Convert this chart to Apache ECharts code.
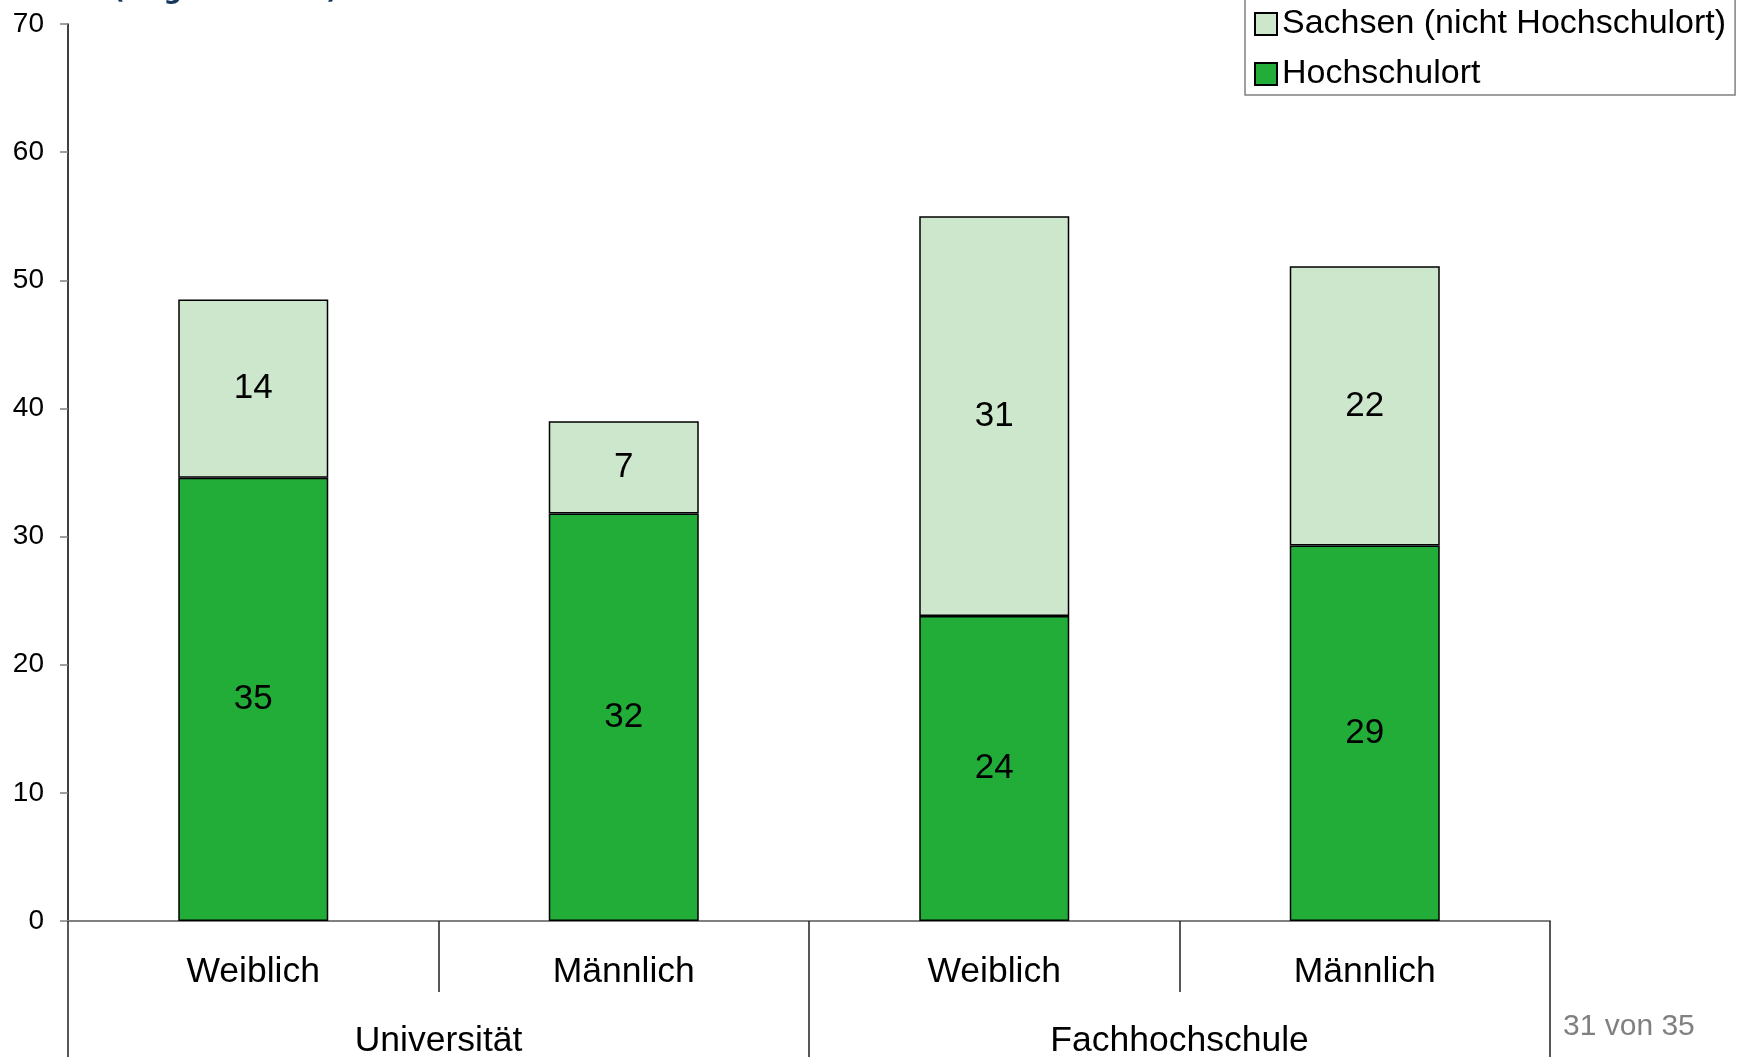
<!DOCTYPE html>
<html>
<head>
<meta charset="utf-8">
<script src="https://cdn.jsdelivr.net/npm/echarts@6/dist/echarts.min.js"></script>
<style>
html,body{margin:0;padding:0;background:#fff;}
#chart{width:1738px;height:1057px;}
</style>
</head>
<body>
<div id="chart"></div>
<script>
const subCategories = ['Weiblich', 'Männlich', 'Weiblich', 'Männlich'];
const groupCategories = ['Universität', 'Fachhochschule'];
const hochschulort = [34.6, 31.8, 23.8, 29.3];
const sachsen = [13.9, 7.2, 31.2, 21.8];
const seriesNames = ['Hochschulort', 'Sachsen (nicht Hochschulort)'];
const yTicks = { min: 0, max: 70, interval: 10 };
const titleText = '(Angaben in %)';
const pageText = '31 von 35';

const FONT = '"Liberation Sans", Arial, sans-serif';
const chart = echarts.init(document.getElementById('chart'), null, { renderer: 'canvas' });

const labelOpt = {
  show: true,
  position: 'inside',
  color: '#000',
  fontSize: 35,
  fontFamily: FONT,
  formatter: p => Math.round(p.value)
};

chart.setOption({
  backgroundColor: '#fff',
  animation: false,
  grid: { left: 68, right: 188, top: 24, bottom: 136, containLabel: false, outerBoundsMode: 'none' },
  legend: {
    data: [seriesNames[1], seriesNames[0]],
    orient: 'vertical',
    left: 1245,
    top: -2,
    padding: [9, 9, 4, 9],
    itemGap: 16,
    itemWidth: 22,
    itemHeight: 22,
    itemTextGap: 6,
    icon: 'rect',
    borderColor: '#808080',
    borderWidth: 1.5,
    backgroundColor: '#fff',
    textStyle: { fontSize: 34, fontFamily: FONT, color: '#000' }
  },
  xAxis: [
    {
      type: 'category',
      data: subCategories,
      position: 'bottom',
      boundaryGap: true,
      axisLine: { show: true, lineStyle: { color: '#808080', width: 2 } },
      axisTick: { show: true, interval: 0, length: 71, lineStyle: { color: '#222', width: 1.5 } },
      axisLabel: { interval: 0, margin: 33, fontSize: 35.5, fontFamily: FONT, color: '#000' },
      splitLine: { show: false }
    },
    {
      type: 'category',
      data: groupCategories,
      position: 'bottom',
      boundaryGap: true,
      axisLine: { show: false },
      axisTick: { show: true, interval: 0, length: 140, lineStyle: { color: '#222', width: 1.5 } },
      axisLabel: { interval: 0, margin: 102, fontSize: 35.5, fontFamily: FONT, color: '#000' },
      splitLine: { show: false }
    }
  ],
  yAxis: {
    type: 'value',
    min: yTicks.min,
    max: yTicks.max,
    interval: yTicks.interval,
    axisLine: { show: true, lineStyle: { color: '#000', width: 1.5 } },
    axisTick: { show: true, length: 8, lineStyle: { color: '#808080', width: 1.5 } },
    axisLabel: { margin: 24, fontSize: 28, fontFamily: FONT, color: '#000' },
    splitLine: { show: false }
  },
  series: [
    {
      name: seriesNames[0],
      type: 'bar',
      stack: 'total',
      xAxisIndex: 0,
      barWidth: 150,
      data: hochschulort,
      itemStyle: { color: '#22AC38', borderColor: '#000', borderWidth: 1.5 },
      label: labelOpt
    },
    {
      name: seriesNames[1],
      type: 'bar',
      stack: 'total',
      xAxisIndex: 0,
      barWidth: 150,
      data: sachsen,
      itemStyle: { color: '#CCE7CB', borderColor: '#000', borderWidth: 1.5 },
      label: labelOpt
    }
  ],
  graphic: [
    {
      type: 'text',
      left: 113,
      top: -22,
      style: { text: titleText, fontSize: 26, fontWeight: 'bold', fontFamily: '"DejaVu Sans", Verdana, sans-serif', fill: '#17375E' }
    },
    {
      type: 'text',
      left: 1563,
      top: 1012,
      style: { text: pageText, fontSize: 30, fontFamily: FONT, fill: '#808080' }
    }
  ]
});
</script>
</body>
</html>
